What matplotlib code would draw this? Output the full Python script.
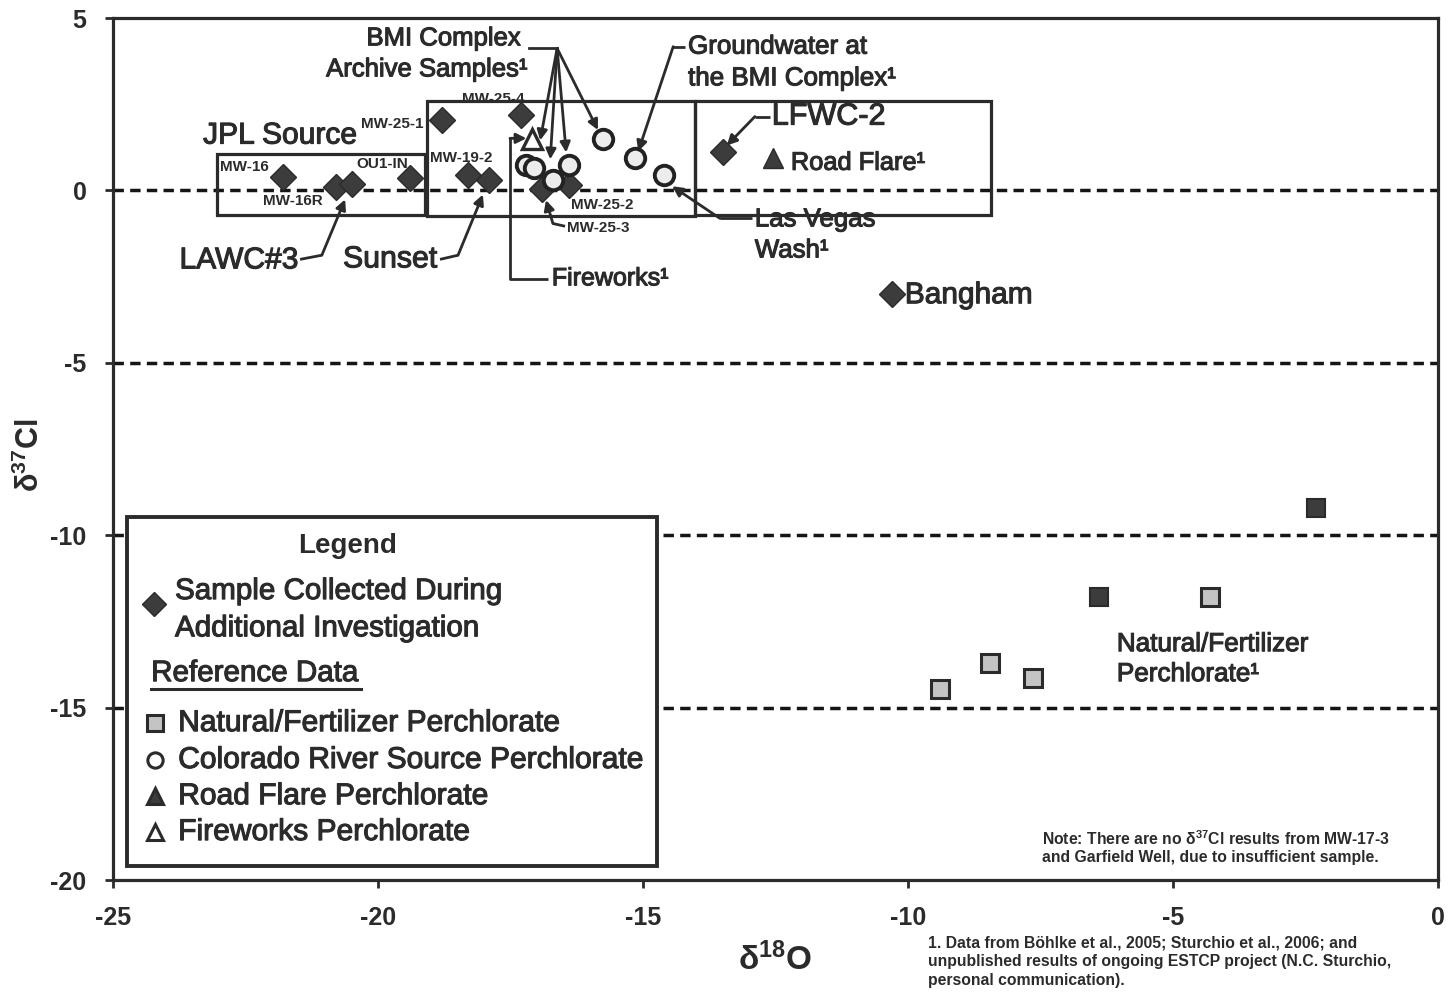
import numpy as np
import matplotlib.pyplot as plt
import matplotlib.patheffects as pe
from matplotlib.patches import Rectangle

plt.rcParams['font.family'] = ['Liberation Sans', 'DejaVu Sans']
plt.rcParams['axes.unicode_minus'] = False
plt.rcParams['mathtext.default'] = 'regular'

# Muestras recogidas durante la investigación adicional (rombos)
muestras_nombre = ["MW-16", "MW-16R", "LAWC#3", "OU1-IN", "MW-25-1", "MW-19-2", "Sunset",
                   "MW-25-4", "MW-25-3", "MW-25-2", "LFWC-2", "Bangham"]
muestras_d18O = [-21.8, -20.8, -20.5, -19.4, -18.8, -18.3, -17.9, -17.3, -16.9, -16.4, -13.5, -10.3]
muestras_d37Cl = [0.4, 0.1, 0.2, 0.35, 2.05, 0.45, 0.3, 2.2, 0.05, 0.15, 1.1, -3.0]

# Datos de referencia
colorado_d18O = [-17.2, -17.05, -16.7, -16.4, -15.75, -15.15, -14.6]
colorado_d37Cl = [0.75, 0.65, 0.3, 0.75, 1.5, 0.95, 0.45]
natural_claro_d18O = [-9.4, -8.45, -7.65, -4.3]
natural_claro_d37Cl = [-14.45, -13.7, -14.15, -11.8]
natural_oscuro_d18O = [-6.4, -2.3]
natural_oscuro_d37Cl = [-11.8, -9.2]
bengala_d18O = [-12.55]
bengala_d37Cl = [0.95]
fuegos_d18O = [-17.1]
fuegos_d37Cl = [1.5]

lineas_ref = [0, -5, -10, -15]

NEGRO = '#2b2b2b'
GRIS = '#3c3c3c'
GRUESO = [pe.withStroke(linewidth=0.8, foreground=NEGRO)]

fig = plt.figure(figsize=(14.55, 10.02), dpi=100)
ax = fig.add_axes([113 / 1455, 1 - 880 / 1002, 1325 / 1455, 862 / 1002])
ax.set_xlim(-25, 0)
ax.set_ylim(-20, 5)


def texto(x, y, s, size, ha='left', **kw):
    kw.setdefault('zorder', 4)
    return ax.text(x, y, s, ha=ha, va='center', fontsize=size, color=NEGRO,
                   path_effects=GRUESO, **kw)


# Líneas horizontales discontinuas
for y in lineas_ref:
    ax.axhline(y, color='#151515', lw=2.5, ls=(0, (3, 1.8)), zorder=1)

# Recuadros de agrupación
for (x0, x1, y0, y1) in [(-23.04, -19.11, -0.70, 1.07),
                         (-19.08, -14.02, -0.75, 2.58),
                         (-14.02, -8.43, -0.70, 2.58)]:
    ax.add_patch(Rectangle((x0, y0), x1 - x0, y1 - y0, fill=False, ec=NEGRO, lw=2.3, zorder=2))

# Puntos
ax.plot(muestras_d18O, muestras_d37Cl, 'D', ms=13, color=GRIS, mec=NEGRO, zorder=5)
ax.plot(colorado_d18O, colorado_d37Cl, 'o', ms=14, mfc='#ececec', mec='#222222', mew=2.8, zorder=6)
ax.plot(natural_claro_d18O, natural_claro_d37Cl, 's', ms=13, mfc='#c4c4c4', mec=NEGRO, mew=2.2, zorder=5)
ax.plot(natural_oscuro_d18O, natural_oscuro_d37Cl, 's', ms=13, mfc=GRIS, mec=NEGRO, mew=1.5, zorder=5)
ax.plot(bengala_d18O, bengala_d37Cl, '^', ms=15, color=GRIS, mec=NEGRO, zorder=5)
ax.plot(fuegos_d18O, fuegos_d37Cl, '^', ms=14, mfc='white', mec=NEGRO, mew=2.4, zorder=7)

flecha = dict(arrowstyle='-|>,head_length=0.6,head_width=0.3', color=NEGRO, lw=2, shrinkA=0, shrinkB=0)


def conector(puntos, fin):
    xs, ys = zip(*puntos)
    ax.plot(xs, ys, color=NEGRO, lw=2, zorder=4, solid_capstyle='butt')
    ax.annotate('', xy=fin, xytext=puntos[-1], arrowprops=flecha, zorder=4)


# BMI Complex Archive Samples
ax.plot([-17.15, -16.62], [4.12, 4.12], color=NEGRO, lw=2, zorder=4)
for fin in [(-16.94, 1.45), (-16.75, 0.9), (-16.45, 1.1), (-15.85, 1.75)]:
    ax.annotate('', xy=fin, xytext=(-16.62, 4.12), arrowprops=flecha, zorder=4)
texto(-17.3, 4.41, "BMI Complex", 18.5, ha='right')
texto(-17.17, 3.51, "Archive Samples¹", 18.5, ha='right')

conector([(-14.21, 4.17), (-14.43, 4.17)], (-15.09, 1.13))
texto(-14.15, 4.17, "Groundwater at", 18.7)
texto(-14.15, 3.25, "the BMI Complex¹", 18.7)

conector([(-12.6, 2.14), (-12.89, 2.14)], (-13.42, 1.3))
texto(-12.57, 2.14, "LFWC-2", 22)
texto(-12.21, 0.8, "Road Flare¹", 18.3)

conector([(-12.94, -0.81), (-13.55, -0.81)], (-14.45, 0.12))
texto(-12.89, -0.84, "Las Vegas", 18.6)
texto(-12.89, -1.74, "Wash¹", 18.6)

texto(-10.06, -3.04, "Bangham", 21.5)

texto(-23.3, 1.59, "JPL Source", 21.6)

conector([(-21.47, -2.0), (-21.06, -1.88)], (-20.62, -0.26))
texto(-21.5, -2.03, "LAWC#3", 21.6, ha='right')

conector([(-18.83, -2.0), (-18.49, -1.88)], (-18.02, -0.12))
texto(-18.88, -2.0, "Sunset", 21.8, ha='right')

conector([(-16.79, -2.58), (-17.51, -2.58), (-17.51, 1.51)], (-17.2, 1.51))
texto(-16.72, -2.55, "Fireworks¹", 18)

conector([(-16.47, -1.04), (-16.7, -0.96)], (-16.83, -0.28))

# Etiquetas pequeñas de pozos
etiquetas = [("MW-16", -22.98, 0.67), ("MW-16R", -22.17, -0.32), ("OU1-IN", -20.4, 0.78),
             ("MW-25-1", -20.32, 1.94), ("MW-19-2", -19.02, 0.93), ("MW-25-4", -18.42, 2.64),
             ("MW-25-2", -16.36, -0.43), ("MW-25-3", -16.43, -1.1)]
for s, x, y in etiquetas:
    ax.text(x, y, s, ha='left', va='center', fontsize=11, fontweight='bold',
            color=NEGRO, zorder=3)

texto(-6.06, -13.16, "Natural/Fertilizer", 18.8)
texto(-6.06, -14.03, "Perchlorate¹", 18.8)

ax.text(-7.47, -18.81, "Note: There are no δ$^{37}$Cl results from MW-17-3", ha='left', va='center',
        fontsize=11.3, fontweight='bold', color=NEGRO)
ax.text(-7.47, -19.36, "and Garfield Well, due to insufficient sample.", ha='left', va='center',
        fontsize=11.3, fontweight='bold', color=NEGRO)

# Leyenda dibujada a mano
ax.add_patch(Rectangle((-24.74, -19.59), 10.0, 10.11, fc='white', ec=NEGRO, lw=2.8, zorder=8))
ax.text(-20.57, -10.32, "Legend", ha='center', va='center', fontsize=20, fontweight='bold',
        color=NEGRO, zorder=9)
ax.plot(-24.23, -12.0, 'D', ms=12, color=GRIS, mec=NEGRO, zorder=9)
texto(-23.83, -11.62, "Sample Collected During", 21.3, zorder=9)
texto(-23.83, -12.70, "Additional Investigation", 21.3, zorder=9)
texto(-24.28, -14.0, "Reference Data", 21.3, zorder=9)
ax.plot([-24.28, -20.32], [-14.46, -14.46], color=NEGRO, lw=2.2, zorder=9)
filas = [('s', '#c4c4c4', "Natural/Fertilizer Perchlorate", -15.45),
         ('o', 'white', "Colorado River Source Perchlorate", -16.52),
         ('^', GRIS, "Road Flare Perchlorate", -17.57),
         ('^', 'white', "Fireworks Perchlorate", -18.61)]
for m, fc, s, y in filas:
    ax.plot(-24.21, y, m, ms=11, mfc=fc, mec=NEGRO, mew=2.2, zorder=9)
    texto(-23.77, y, s, 21.6, zorder=9)

# Ejes
for s in ax.spines.values():
    s.set_linewidth(2.3)
    s.set_color(NEGRO)
ax.set_xticks([-25, -20, -15, -10, -5, 0])
ax.set_yticks([-20, -15, -10, -5, 0, 5])
ax.tick_params(direction='out', length=6, width=2, color=NEGRO, labelsize=18, pad=13)
for lab in ax.get_xticklabels() + ax.get_yticklabels():
    lab.set_fontweight('bold')
    lab.set_color(NEGRO)

fig.text(30 / 1455, 1 - 455 / 1002, "δ$^{37}$Cl", rotation=90, ha='center', va='center',
         fontsize=22, fontweight='bold', color=NEGRO)
fig.text(775 / 1455, 1 - 960 / 1002, "δ$^{18}$O", ha='center', va='center',
         fontsize=24, fontweight='bold', color=NEGRO)
fig.text(928 / 1455, 1 - 935 / 1002,
         "1. Data from Böhlke et al., 2005; Sturchio et al., 2006; and\n"
         "unpublished results of ongoing ESTCP project (N.C. Sturchio,\n"
         "personal communication).", ha='left', va='top', fontsize=11.3, fontweight='bold',
         color=NEGRO, linespacing=1.35)

fig.savefig("out.png", dpi=100, facecolor='white')
